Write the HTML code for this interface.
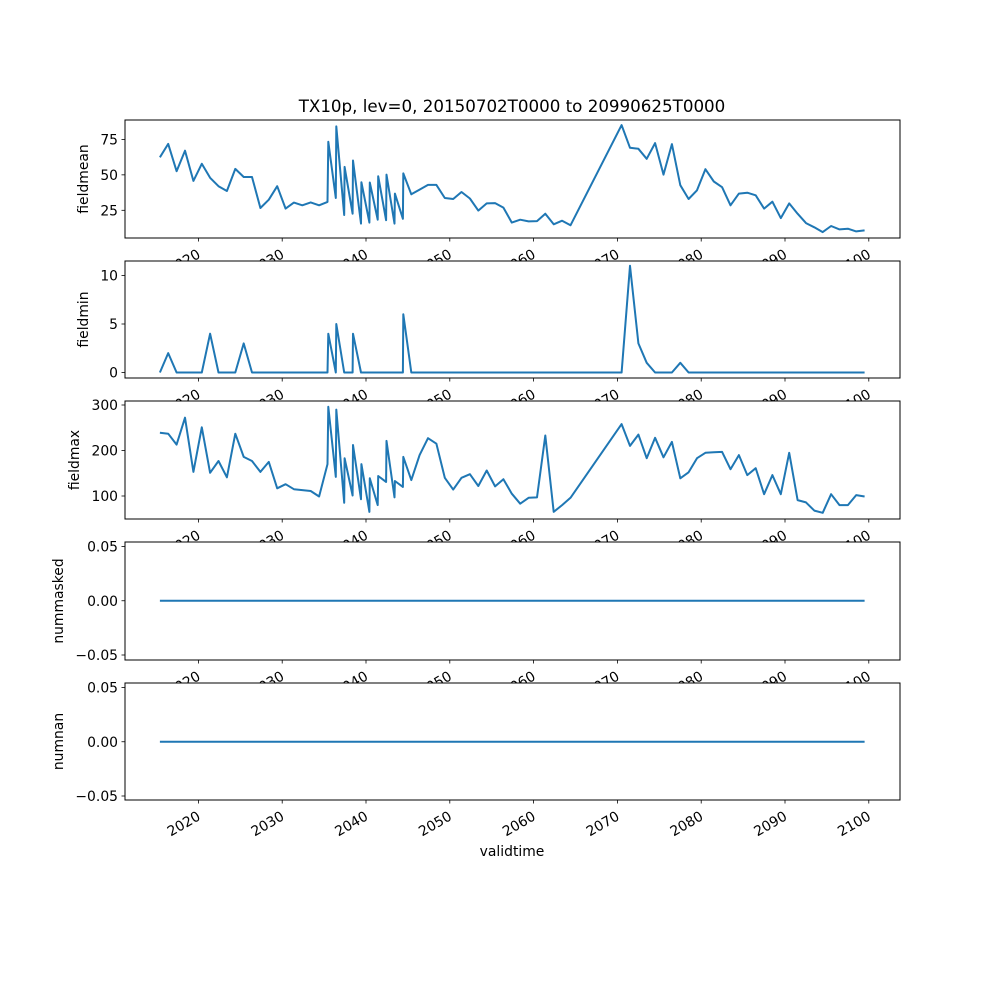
<!DOCTYPE html>
<html><head><meta charset="utf-8">
<style>html,body{margin:0;padding:0;background:#fff}svg{display:block;font-family:"DejaVu Sans","Liberation Sans",sans-serif}</style>
</head><body>
<svg id="chart" width="1000" height="1000" viewBox="0 0 1000 1000" xmlns="http://www.w3.org/2000/svg">
<rect width="1000" height="1000" fill="#fff"/>
<text x="512" y="112" text-anchor="middle" font-size="16.7">TX10p, lev=0, 20150702T0000 to 20990625T0000</text>
<text x="512" y="856" text-anchor="middle" font-size="13.9">validtime</text>
</svg>
<script>
const times = [2015.4,2016.4,2017.4,2018.4,2019.4,2020.4,2021.4,2022.4,2023.4,2024.4,2025.4,2026.4,2027.4,2028.4,2029.4,2030.4,2031.4,2032.4,2033.4,2034.4,2035.4,
2035.5,2036.4,2036.45,2037.4,2037.45,2038.4,2038.45,2039.4,2039.45,2040.4,2040.45,2041.4,2041.45,2042.4,2042.45,2043.4,2043.45,2044.4,2044.45,
2045.4,2046.4,2047.4,2048.4,2049.4,2050.4,2051.4,2052.4,2053.4,2054.4,2055.4,2056.4,2057.4,2058.4,2059.4,2060.4,2061.4,2062.4,2063.4,2064.4,
2070.5,2071.5,2072.5,2073.5,2074.5,2075.5,2076.5,2077.5,2078.5,2079.5,2080.5,2081.5,2082.5,2083.5,2084.5,2085.5,2086.5,2087.5,2088.5,2089.5,2090.5,2091.5,2092.5,2093.5,2094.5,2095.5,2096.5,2097.5,2098.5,2099.5];
const fieldmean = [62.4,71.8,52.6,67,45.7,57.8,47.9,42,38.6,54.2,48.5,48.5,26.6,32.5,42,26.2,30.4,28.5,30.6,28.5,30.9,
73.3,33.7,84.2,21.7,55.6,22.6,60.1,15.6,44.8,16.3,44.6,18.4,49,18,50.2,15.6,36.8,19,51,
36.3,39.6,42.9,42.9,33.7,33,37.9,33.3,24.8,29.9,30.1,26.9,16.3,18.4,17.2,17.4,22.6,15.1,17.7,14.4,
85.1,69.1,68.4,61.3,72.4,50.2,71.7,42.7,33,39.1,54,45.3,41.3,28.5,36.8,37.4,35.6,26.2,31.1,19.5,29.9,22.6,16,13,9.6,13.9,11.5,12,10.1,10.8];
const fieldmin = [0,2,0,0,0,0,4,0,0,0,3,0,0,0,0,0,0,0,0,0,0,
4,0,5,0,0,0,4,0,0,0,0,0,0,0,0,0,0,0,6,
0,0,0,0,0,0,0,0,0,0,0,0,0,0,0,0,0,0,0,0,
0,11,3,1,0,0,0,1,0,0,0,0,0,0,0,0,0,0,0,0,0,0,0,0,0,0,0,0,0,0];
const fieldmax = [239,237,213,272,153,251,151,177,141,237,186,177,153,175,117,126,115,113,111,99,170,
296,142,290,85,183,101,212,93,170,65,139,80,144,131,221,97,133,120,186,
135,190,227,215,140,114,140,148,122,156,121,137,105,83,96,97,233,65,80,96,
258,210,235,183,228,185,219,139,152,183,195,196,197,159,190,146,161,104,146,104,195,91,86,68,63,104,80,80,102,99];
const nummasked = times.map(() => 0);
const numnan = times.map(() => 0);
const xTicks = [2020,2030,2040,2050,2060,2070,2080,2090,2100];
const ticksMean = [25,50,75];
const ticksMin = [0,5,10];
const ticksMax = [100,200,300];
const ticksZero = [-0.05,0,0.05];

const NS = "http://www.w3.org/2000/svg";
const svg = document.getElementById('chart');
const L = 125, R = 900;
function xs(t){ return 198.4 + (t - 2020) * 8.38; }
function mk(tag, attrs, parent){ const e = document.createElementNS(NS, tag); for (const k in attrs) e.setAttribute(k, attrs[k]); (parent||svg).appendChild(e); return e; }

const panels = [
 {name:'fieldmean', vals:fieldmean, ticks:ticksMean, top:120, bot:238, v0:25, p0:210.3, v1:75, p1:139.4, fmt:v=>String(v), lx:88},
 {name:'fieldmin', vals:fieldmin, ticks:ticksMin, top:261, bot:378, v0:0, p0:372.5, v1:10, p1:275.5, fmt:v=>String(v), lx:88},
 {name:'fieldmax', vals:fieldmax, ticks:ticksMax, top:401, bot:519, v0:100, p0:496, v1:300, p1:405, fmt:v=>String(v), lx:79},
 {name:'nummasked', vals:nummasked, ticks:ticksZero, top:542, bot:660, v0:-0.05, p0:655, v1:0.05, p1:546.5, fmt:v=>(v<0?'\u2212':'')+Math.abs(v).toFixed(2), lx:63},
 {name:'numnan', vals:numnan, ticks:ticksZero, top:683, bot:800, v0:-0.05, p0:796, v1:0.05, p1:687.5, fmt:v=>(v<0?'\u2212':'')+Math.abs(v).toFixed(2), lx:63}
];

panels.forEach(p => {
  const g = mk('g', {});
  
  
  const ys = v => p.p0 + (v - p.v0) * (p.p1 - p.p0) / (p.v1 - p.v0);
  const bg = mk('rect', {x:L, y:p.top, width:R-L, height:p.bot-p.top, fill:'#fff'}, g);
  
  
  const d = times.map((t,i) => (i?'L':'M') + xs(t).toFixed(1) + ',' + ys(p.vals[i]).toFixed(1)).join('');
  const line = mk('path', {d:d, fill:'none', stroke:'#1f77b4', 'stroke-width':2, 'stroke-linejoin':'round'}, g);
  
  
  const frame = mk('rect', {x:L, y:p.top, width:R-L, height:p.bot-p.top, fill:'none', stroke:'#000', 'stroke-width':1}, g);
  
  
  p.ticks.forEach(v => {
    const y = ys(v);
    mk('line', {x1:L-3.5, x2:L, y1:y, y2:y, stroke:'#000', 'stroke-width':0.8}, g);
    const tx = mk('text', {x:L-7, y:y+5, 'text-anchor':'end', 'font-size':13.9}, g);
    tx.textContent = p.fmt(v);
    
    
  });
  const cy = (p.top + p.bot) / 2;
  const yl = mk('text', {x:p.lx, y:cy, 'text-anchor':'middle', 'font-size':13.9, transform:'rotate(-90 '+p.lx+' '+cy+')'}, g);
  yl.textContent = p.name;
  
  
  xTicks.forEach(t => {
    const x = xs(t);
    mk('line', {x1:x, x2:x, y1:p.bot, y2:p.bot+3.5, stroke:'#000', 'stroke-width':0.8}, g);
    const ax = x + 3, ay = p.bot + 19;
    const tl = mk('text', {x:ax, y:ay, 'text-anchor':'end', 'font-size':13.9, transform:'rotate(-30 '+ax+' '+ay+')'}, g);
    tl.textContent = String(t);
    
    
  });
});
</script>
</body></html>
